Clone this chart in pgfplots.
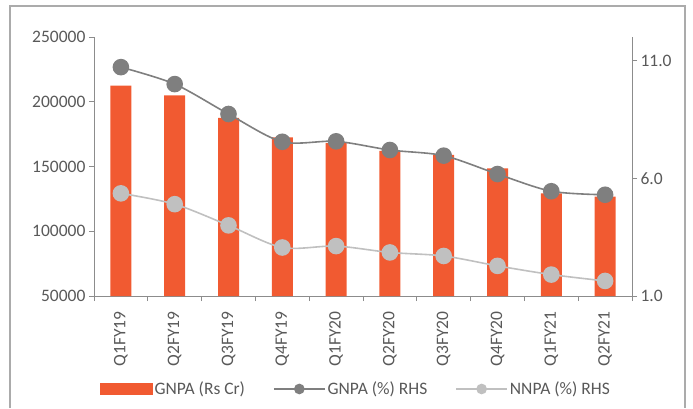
\documentclass[border=0pt]{standalone}
\usepackage{fontspec}
\setmainfont{Carlito}
\usepackage{pgfplots}
\pgfplotsset{compat=1.18}

\definecolor{barc}{HTML}{F15A31}
\definecolor{gnpa}{HTML}{7F7F7F}
\definecolor{nnpa}{HTML}{C0C0C0}
\definecolor{txt}{HTML}{595959}
\definecolor{axc}{HTML}{8C8C8C}
\definecolor{framec}{HTML}{ABABAB}

\pgfplotsset{
  base/.style={
    at={(94pt,112pt)}, anchor=south west,
    scale only axis, width=538pt, height=259pt,
    xmin=-0.5, xmax=9.5,
    axis line style={axc, line width=1pt},
    tick style={axc, line width=1pt},
    major tick length=5pt, tick align=outside,
    tick label style={font=\fontsize{17.5}{20}\selectfont, text=txt},
    /pgf/number format/assume math mode=true,
    clip=false,
  },
}

\begin{document}
\begin{tikzpicture}[x=1pt,y=1pt]
\useasboundingbox (0,0) rectangle (693,408);
\draw[framec, line width=1.2pt] (10,0) -- (10,402) -- (685,402) -- (685,0);

% left axis: GNPA amount (bars)
\begin{axis}[base,
  ymin=50000, ymax=250000,
  axis x line*=bottom, axis y line*=left,
  ytick={50000,100000,150000,200000,250000},
  scaled y ticks=false,
  yticklabel style={/pgf/number format/.cd, fixed, set thousands separator={}},
  xtick={-0.5,0.5,...,9.5}, xticklabels={},
  extra x ticks={0,1,2,3,4,5,6,7,8,9},
  extra x tick labels={Q1FY19,Q2FY19,Q3FY19,Q4FY19,Q1FY20,Q2FY20,Q3FY20,Q4FY20,Q1FY21,Q2FY21},
  extra x tick style={major tick length=0pt,
    xticklabel style={rotate=90, anchor=east, xshift=-12pt}},
  clip=true,
]
\addplot[ybar, bar width=21pt, fill=barc, draw=none] coordinates {
  (0,212400) (1,205000) (2,187500) (3,172500) (4,168000)
  (5,162000) (6,159000) (7,148600) (8,129300) (9,126700)
};
\end{axis}

% right axis: ratios (%)
\begin{axis}[base,
  ymin=1, ymax=12,
  axis x line=none, axis y line*=right,
  ytick={1,6,11},
  yticklabel style={/pgf/number format/.cd, fixed, fixed zerofill, precision=1},
  legend columns=3,
  legend style={at={(0.487,-0.359)}, anchor=center, draw=none, fill=none,
    font=\fontsize{17.5}{20}\selectfont, text=txt,
    /tikz/every even column/.append style={column sep=26pt}},
]
\addlegendimage{legend image code/.code={\fill[barc] (0pt,-5.5pt) rectangle (52pt,5.5pt);}}
\addlegendentry{GNPA (Rs Cr)}
\addplot[gnpa, line width=1.6pt, smooth, tension=0.5,
  mark=*, mark size=7.5pt, mark options={fill=gnpa, draw=gnpa},
  legend image code/.code={\draw[gnpa, line width=1.6pt] (0pt,0pt) -- (51pt,0pt);
    \fill[gnpa] (25.5pt,0pt) circle (4.5pt);}]
  coordinates {
  (0,10.72) (1,10.0) (2,8.73) (3,7.55) (4,7.57)
  (5,7.2) (6,6.96) (7,6.18) (8,5.45) (9,5.3)
};
\addlegendentry{GNPA (\%) RHS}
\addplot[nnpa, line width=1.6pt, smooth, tension=0.5,
  mark=*, mark size=7.5pt, mark options={fill=nnpa, draw=nnpa},
  legend image code/.code={\draw[nnpa, line width=1.6pt] (0pt,0pt) -- (51pt,0pt);
    \fill[nnpa] (25.5pt,0pt) circle (4.5pt);}]
  coordinates {
  (0,5.36) (1,4.9) (2,4.0) (3,3.06) (4,3.12)
  (5,2.85) (6,2.7) (7,2.28) (8,1.91) (9,1.64)
};
\addlegendentry{NNPA (\%) RHS}
\end{axis}
\end{tikzpicture}
\end{document}
